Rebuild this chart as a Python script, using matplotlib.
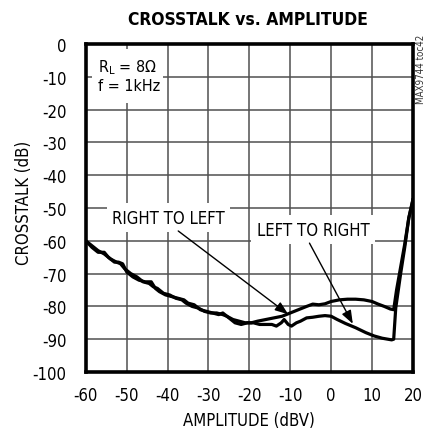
import matplotlib
matplotlib.use("Agg")
import matplotlib.pyplot as plt
from matplotlib.patches import Rectangle

plt.rcParams['font.family'] = ['DejaVu Sans']
plt.rcParams['font.stretch'] = 'condensed'
plt.rcParams['mathtext.fontset'] = 'dejavusans'
plt.rcParams['axes.unicode_minus'] = False

# right-to-left crosstalk (upper curve at high amplitude)
rtl_x = [-60, -58.5, -57, -55.5, -54, -52.5, -51.5, -50.5, -49, -47.5,
         -46, -44.5, -43.5, -42.5, -41, -39.5, -38, -36.5, -35.5, -34,
         -32.5, -31, -29.5, -28, -26.5, -25.5, -24, -22.5, -21, -19.5,
         -18, -16, -14, -12, -10, -8, -6, -4.5, -3, -1.5,
         0, 2, 4, 6, 8, 10, 11.5, 13, 14.5, 15.3,
         16, 17, 18, 19, 20]
rtl_y = [-60, -61.5, -63, -64, -65.5, -66.5, -67, -68.5, -70, -71,
         -72.5, -73, -74, -74.5, -76, -76.5, -77.5, -78, -79, -80,
         -80.5, -81.5, -82, -82, -82.5, -83, -84, -84.5, -85, -85,
         -84.5, -84, -83.5, -83, -82, -81, -80, -79.3, -79.5, -79.2,
         -78.5, -78, -77.8, -77.8, -78, -78.5, -79.3, -80, -80.8, -81,
         -75, -68, -61, -53, -47.5]

# left-to-right crosstalk (lower curve at high amplitude)
ltr_x = [-60, -58.5, -57, -55.5, -54.5, -53, -52, -51, -50, -48.5,
         -47, -45.5, -44, -43, -42, -40.5, -39, -37.5, -36, -35,
         -33.5, -32, -30.5, -29, -27.5, -26.5, -25, -23.5, -22, -20.5,
         -19, -17.5, -16, -14.5, -13.4, -12.2, -11.5, -10.5, -9.7, -8.5,
         -7.5, -6, -4.5, -3, -1.5, 0, 1.5, 3.5, 6, 8.5,
         10.5, 12.5, 14.8, 15.3, 15.8, 17, 18, 19, 20]
ltr_y = [-60, -62, -63.5, -63.5, -65, -66.5, -66.5, -67, -69.5, -71,
         -72, -72.5, -72.5, -74.5, -75.5, -76.5, -77, -77.5, -78, -79,
         -79.5, -81, -81.5, -82, -82.5, -82, -83.5, -85, -85.5, -85,
         -85, -85.5, -85.5, -85.5, -86, -85, -84, -85.5, -86, -85,
         -84.5, -83.5, -83.3, -83, -82.8, -83, -84, -85.2, -86.5, -88,
         -89, -89.7, -90.2, -90, -80.5, -70, -62, -53, -47.5]

x_ticks = [-60, -50, -40, -30, -20, -10, 0, 10, 20]
y_ticks = [0, -10, -20, -30, -40, -50, -60, -70, -80, -90, -100]

fs = 12

fig = plt.figure(figsize=(4.27, 4.35), dpi=100)
ax = fig.add_axes([0.201, 0.1425, 0.766, 0.754])

ax.set_xlim(-60, 20)
ax.set_ylim(-100, 0)
ax.set_xticks(x_ticks)
ax.set_yticks(y_ticks)
ax.tick_params(length=0, labelsize=fs)
ax.tick_params(axis='x', pad=10)
ax.tick_params(axis='y', pad=14)
ax.grid(True, color='#505050', linewidth=1.1)
ax.set_axisbelow(True)
for s in ax.spines.values():
    s.set_linewidth(2.6)
    s.set_zorder(10)

ax.plot(rtl_x, rtl_y, color='black', lw=2.3, zorder=5)
ax.plot(ltr_x, ltr_y, color='black', lw=2.3, zorder=5)

# condition box
ax.add_patch(Rectangle((-58.5, -18), 17.3, 16.5, facecolor='white',
                       edgecolor='none', zorder=2))
ax.text(-57, -7, r'R$_\mathregular{L}$ = 8$\Omega$', fontsize=11.5,
        va='center', ha='left', zorder=3)
ax.text(-57, -12.6, 'f = 1kHz', fontsize=11.5, va='center', ha='left', zorder=3)

bb = dict(facecolor='white', edgecolor='none', pad=4)
ax.text(-39.8, -53, 'RIGHT TO LEFT', fontsize=fs, ha='center', va='center',
        bbox=bb, zorder=3)
ax.text(-4.4, -56.6, 'LEFT TO RIGHT', fontsize=fs, ha='center', va='center',
        bbox=bb, zorder=3)

arr = dict(arrowstyle='-|>,head_length=0.8,head_width=0.3', color='black',
           lw=1.0, shrinkA=0, shrinkB=0)
ax.annotate('', xy=(-10.5, -82.4), xytext=(-37.4, -57), arrowprops=arr, zorder=4)
ax.annotate('', xy=(5.3, -85.3), xytext=(-5.3, -60.7), arrowprops=arr, zorder=4)

ax.set_xlabel('AMPLITUDE (dBV)', fontsize=fs, va='center')
ax.set_ylabel('CROSSTALK (dB)', fontsize=fs, va='center')
ax.xaxis.set_label_coords(0.5, -0.146)
ax.yaxis.set_label_coords(-0.19, 0.52)
fig.text(0.581, 0.955, 'CROSSTALK vs. AMPLITUDE', fontsize=12.5,
         fontweight='bold', ha='center', va='center')
fig.text(0.985, 0.84, 'MAX9744 toc42', fontsize=7, rotation=90,
         ha='center', va='center', color='#333333')

fig.savefig('out.png', dpi=100)
